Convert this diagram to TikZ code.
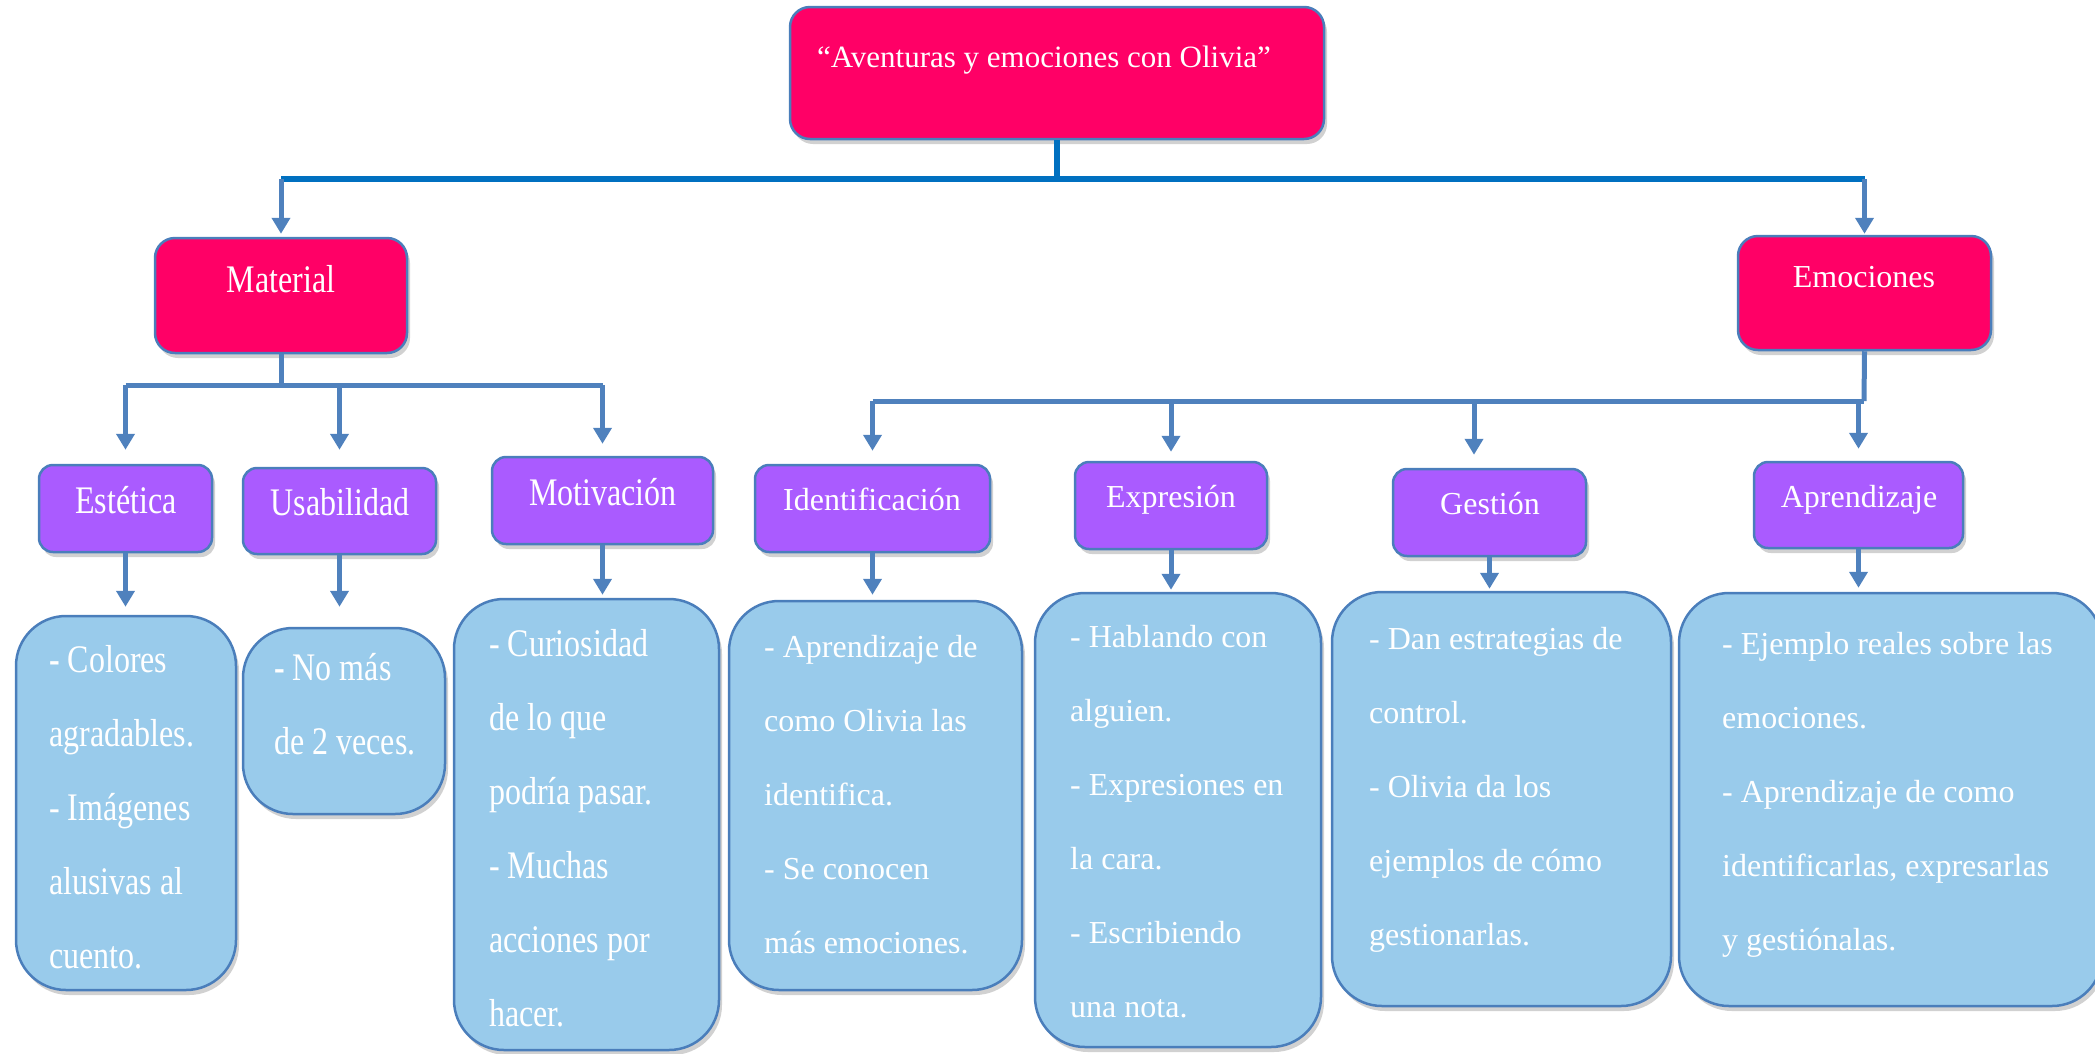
\documentclass[tikz,border=0pt]{standalone}
\usepackage{graphicx}
\usepackage{fontspec}
\setmainfont{Liberation Serif}
\usetikzlibrary{arrows.meta,shadows}
\definecolor{pinkc}{HTML}{FF0066}
\definecolor{purp}{HTML}{AA5BFF}
\definecolor{lblue}{HTML}{99CBEB}
\definecolor{edgec}{HTML}{4A7EBB}
\definecolor{connc}{HTML}{4F81BD}
\definecolor{busc}{HTML}{0070C0}
\newcommand{\mybox}[6]{\node[#6, minimum width={#4-#2}, minimum height={#5-#3}] (#1) at ({(#2+#4)/2},{(#3+#5)/2}) {};}
\newcommand{\tallt}[1]{\scalebox{1}[1.22]{#1}}
\newcommand{\plaint}[1]{#1}
\newcommand{\txtlines}[5]{\foreach \t [count=\i from 0] in {#5} {\node[ctxt, anchor=base west] (#4-\i) at (#2, {#3+74*\i}) {#1{\t}};}}
\begin{document}
\begin{tikzpicture}[x=1pt,y=-1pt,
  shbox/.style={draw=edgec, line width=2.5pt, inner sep=0pt,
    drop shadow={shadow xshift=3pt, shadow yshift=-5pt, opacity=0.3, fill=black!60}},
  pinkbox/.style={shbox, fill=pinkc, rounded corners=20pt},
  purpbox/.style={shbox, fill=purp, rounded corners=14pt},
  bluebox/.style={shbox, fill=lblue, rounded corners=50pt},
  ctxt/.style={text=white, inner sep=0pt, font=\fontsize{32}{38}\selectfont},
  conn/.style={draw=connc, line width=5pt},
  bus/.style={draw=busc, line width=6pt},
  arr/.style={conn, -{Triangle[width=18pt,length=16pt]}, shorten >=4pt},
]
\useasboundingbox (0,0) rectangle (2095,1053);

% top
\mybox{top}{790}{7}{1324}{139}{pinkbox}
\node[ctxt, anchor=base, font=\fontsize{31}{37}\selectfont] (topt) at (1044,67) {“Aventuras y emociones con Olivia”};

% second level
\mybox{mat}{155}{238}{407}{353}{pinkbox}
\node[ctxt, anchor=base] (matt) at (281,292) {\tallt{Material}};
\mybox{emo}{1738}{236}{1991}{350}{pinkbox}
\node[ctxt, anchor=base] (emot) at (1864,287) {Emociones};

% third level
\mybox{est}{39}{465}{212}{552}{purpbox}
\node[ctxt, anchor=base] (estt) at (126,513) {\tallt{Estética}};
\mybox{usa}{243}{468}{436}{554}{purpbox}
\node[ctxt, anchor=base] (usat) at (340,515) {\tallt{Usabilidad}};
\mybox{mot}{492}{457}{713}{544}{purpbox}
\node[ctxt, anchor=base] (mott) at (603,505) {\tallt{Motivación}};
\mybox{ide}{755}{465}{990}{552}{purpbox}
\node[ctxt, anchor=base] (idet) at (872,510) {Identificación};
\mybox{exq}{1075}{462}{1267}{549}{purpbox}
\node[ctxt, anchor=base] (exqt) at (1171,507) {Expresión};
\mybox{ges}{1393}{469}{1586}{556}{purpbox}
\node[ctxt, anchor=base] (gest) at (1490,514) {Gestión};
\mybox{apr}{1754}{462}{1963}{548}{purpbox}
\node[ctxt, anchor=base] (aprt) at (1859,507) {Aprendizaje};

% content boxes
\mybox{col}{16}{616}{236}{990}{bluebox}
\txtlines{\tallt}{49}{672}{colt}{{\textbf{-} Colores},agradables.,- Imágenes,alusivas al,cuento.}
\mybox{nom}{243}{628}{445}{814}{bluebox}
\txtlines{\tallt}{274}{680}{nomt}{{\textbf{-} No más},de 2 veces.}
\mybox{cur}{454}{599}{719}{1050}{bluebox}
\txtlines{\tallt}{489}{656}{curt}{- Curiosidad,de lo que,podría pasar.,- Muchas,acciones por,hacer.}
\mybox{idb}{729}{601}{1022}{990}{bluebox}
\txtlines{\plaint}{764}{657}{idbt}{- Aprendizaje de,como Olivia las,identifica.,- Se conocen,más emociones.}
\mybox{exb}{1035}{593}{1321}{1047}{bluebox}
\txtlines{\plaint}{1070}{647}{exbt}{- Hablando con,alguien.,- Expresiones en,la cara.,- Escribiendo,una nota.}
\mybox{geb}{1332}{592}{1671}{1006}{bluebox}
\txtlines{\plaint}{1369}{649}{gebt}{- Dan estrategias de,control.,- Olivia da los,ejemplos de cómo,gestionarlas.}
\mybox{apb}{1679}{593}{2102}{1006}{bluebox}
\txtlines{\plaint}{1722}{654}{apbt}{- Ejemplo reales sobre las,emociones.,- Aprendizaje de como,{identificarlas, expresarlas},y gestiónalas.}

% connectors: top
\coordinate (tb) at (1057,179);
\draw[bus] (top.south) -- (tb);
\draw[bus] (mat.north |- tb) -- (emo.north |- tb);
\draw[arr, shorten >=3pt] (mat.north |- tb) -- (mat.north);
\draw[arr, shorten >=1pt] (emo.north |- tb) -- (emo.north);

% Material bus
\coordinate (mb) at (281,385);
\draw[conn] (mat.south) -- (mb);
\draw[conn] (est.north |- mb) -- (mot.north |- mb);
\draw[arr, shorten >=14pt] (est.north |- mb) -- (est.north);
\draw[arr, shorten >=17pt] (usa.north |- mb) -- (usa.north);
\draw[arr, shorten >=12pt] (mot.north |- mb) -- (mot.north);

% Emociones bus
\coordinate (eb) at (1864,401);
\coordinate (gA) at (1474,401);
\draw[conn] (emo.south) -- (eb);
\draw[conn] (ide.north |- eb) -- (eb);
\draw[arr, shorten >=13pt] (ide.north |- eb) -- (ide.north);
\draw[arr, shorten >=9pt] (exq.north |- eb) -- (exq.north);
\draw[arr, shorten >=13pt] (gA) -- (gA |- ges.north);
\draw[arr, shorten >=12pt] (apr.north |- eb) -- (apr.north);

% to content
\draw[arr, shorten >=8pt] (est.south) -- (est.south |- col.north);
\draw[arr, shorten >=20pt] (usa.south) -- (usa.south |- nom.north);
\draw[arr, shorten >=3pt] (mot.south) -- (mot.south |- cur.north);
\draw[arr, shorten >=5pt] (ide.south) -- (ide.south |- idb.north);
\draw[arr, shorten >=2pt] (exq.south) -- (exq.south |- exb.north);
\draw[arr, shorten >=2pt] (ges.south) -- (ges.south |- geb.north);
\draw[arr, shorten >=4pt] (apr.south) -- (apr.south |- apb.north);
\end{tikzpicture}
\end{document}
